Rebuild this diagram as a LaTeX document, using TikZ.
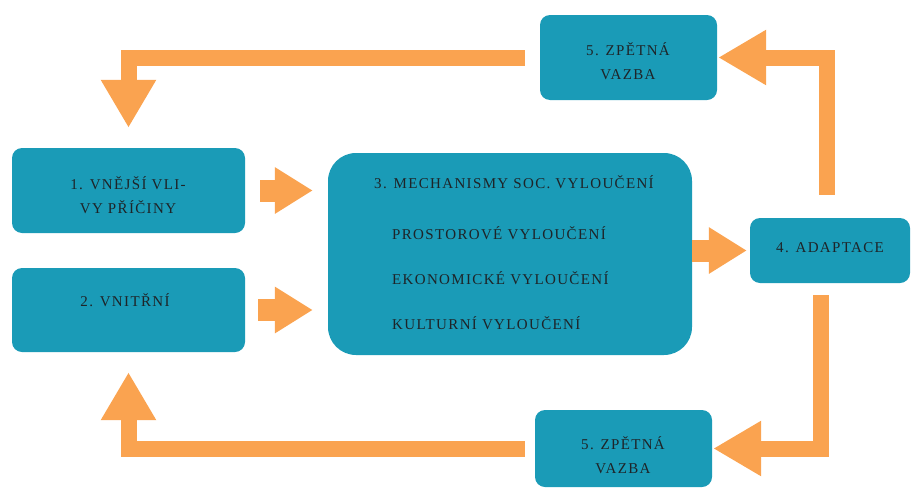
\documentclass[tikz,border=0pt]{standalone}
\usepackage{fontspec}
\setmainfont{Liberation Serif}
\newfontfamily\bxf[LetterSpace=9]{Liberation Serif}
\usetikzlibrary{arrows.meta}
\definecolor{tealbox}{RGB}{26,155,183}
\definecolor{orng}{RGB}{250,163,80}
\definecolor{txt}{RGB}{30,36,40}
\begin{document}
\begin{tikzpicture}[x=1pt,y=-1pt,
  box/.style={fill=tealbox, rounded corners=10pt, inner sep=0pt},
  lbl/.style={font=\bxf\fontsize{15}{24}\selectfont, text=txt, align=center, inner sep=0pt},
  loopar/.style={draw=orng, line width=16pt, line join=miter, -{Triangle[width=52pt,length=48pt]}},
  fatar/.style={draw=orng, line width=22pt, -{Triangle[width=44pt,length=38pt]}}]
\useasboundingbox (0,0) rectangle (912,490);
% boxes
\node[box, minimum width=233pt, minimum height=85pt] (b1) at (128.5,190.5) {};
\node[box, minimum width=233pt, minimum height=84pt] (b2) at (128.5,310) {};
\node[box, rounded corners=28pt, minimum width=364pt, minimum height=202pt] (b3) at (510,254) {};
\node[box, minimum width=160pt, minimum height=65pt] (b4) at (830,250.5) {};
\node[box, minimum width=177pt, minimum height=85pt] (b5a) at (628.5,57.5) {};
\node[box, minimum width=177pt, minimum height=77pt] (b5b) at (623.5,448.5) {};
% labels
\node[lbl] (t1) at (128,195.5) {1. VNĚJŠÍ VLI-\\VY PŘÍČINY};
\node[lbl] (t2) at (125,300) {2. VNITŘNÍ};
\node[lbl] (t3a) at (514,182) {3. MECHANISMY SOC. VYLOUČENÍ};
\node[lbl, anchor=west] (t3b) at (392,233) {PROSTOROVÉ VYLOUČENÍ};
\node[lbl, anchor=west] (t3c) at (392,278) {EKONOMICKÉ VYLOUČENÍ};
\node[lbl, anchor=west] (t3d) at (392,323) {KULTURNÍ VYLOUČENÍ};
\node[lbl] (t4) at (830,248) {4. ADAPTACE};
\node[lbl] (t5a) at (628,61) {5. ZPĚTNÁ\\VAZBA};
\node[lbl] (t5b) at (623,455) {5. ZPĚTNÁ\\VAZBA};
% short arrows
\draw[fatar, shorten <=15pt, shorten >=15pt] (b1.east) -- (b1.east -| b3.west);
\draw[fatar, shorten <=13pt, shorten >=15pt] (b2.east) -- (b2.east -| b3.west);
\draw[fatar, shorten >=3pt] (b3.east |- b4.west) -- (b4.west);
% feedback loops
\draw[loopar, shorten <=23pt, shorten >=1pt] ([xshift=-3pt]b4.north) |- (b5a.east);
\draw[loopar, shorten <=15pt, shorten >=20pt] (b5a.west) -| (b1.north);
\draw[loopar, shorten <=12pt, shorten >=1pt] ([xshift=-9pt]b4.south) |- (b5b.east);
\draw[loopar, shorten <=10pt, shorten >=20pt] (b5b.west) -| (b2.south);
\end{tikzpicture}
\end{document}
